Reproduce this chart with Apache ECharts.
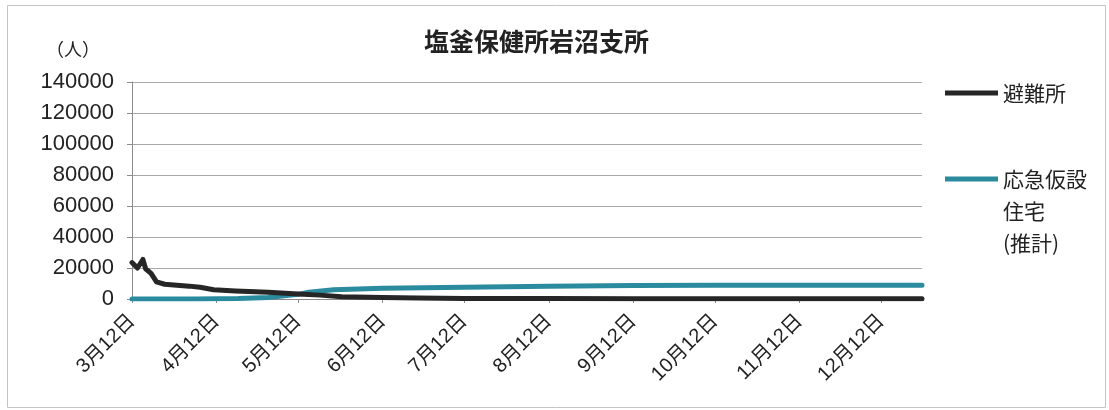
<!DOCTYPE html>
<html>
<head>
<meta charset="utf-8">
<script src="https://cdn.jsdelivr.net/npm/echarts@6/dist/echarts.min.js"></script>
<style>
html,body{margin:0;padding:0;background:#fff;}
#chart{width:1109px;height:410px;}
</style>
</head>
<body>
<div id="chart"></div>
<script>
// ---- data ----
const titleText = '塩釜保健所岩沼支所';
const unitLabel = '（人）';
const seriesNames = ['避難所', '応急仮設住宅(推計)'];
const legendLines = ['応急仮設', '住宅', '(推計)'];

const tickDates = ['3/12','4/12','5/12','6/12','7/12','8/12','9/12','10/12','11/12','12/12'];
const tickLabels = ['3月12日','4月12日','5月12日','6月12日','7月12日','8月12日','9月12日','10月12日','11月12日','12月12日'];
const endDate = '12/27';

const yTicks = [0, 20000, 40000, 60000, 80000, 100000, 120000, 140000];

const shelterDates  = ['3/12','3/14','3/16','3/17','3/19','3/21','3/24','4/2','4/6','4/11','4/19','5/1','5/12','5/20','5/28','6/12','6/25','7/12','8/12','9/12','10/12','11/12','12/12','12/27'];
const shelterValues = [23500, 20000, 25500, 19500, 16500, 11000, 9500, 8300, 7600, 6000, 5200, 4400, 3300, 2500, 1500, 900, 600, 400, 300, 200, 150, 100, 100, 100];

const housingDates  = ['3/12','4/5','4/20','5/1','5/12','5/16','5/25','6/12','7/12','8/12','9/12','10/12','11/12','12/12','12/27'];
const housingValues = [0, 0, 300, 1000, 3000, 4400, 6000, 7000, 7600, 8300, 8700, 8800, 8800, 8800, 8800];

// ---- helpers ----
function dayOffset(md) {
  const p = md.split('/');
  return (Date.UTC(2011, +p[0] - 1, +p[1]) - Date.UTC(2011, 2, 12)) / 86400000;
}
const tickDays = tickDates.map(dayOffset);
const pairs = (ds, vs) => ds.map((d, i) => [dayOffset(d), vs[i]]);

const FONT = "'Liberation Sans', 'Noto Sans CJK JP', sans-serif";
const CJK = "'Noto Sans CJK JP', sans-serif";
const chart = echarts.init(document.getElementById('chart'));

chart.setOption({
  backgroundColor: '#ffffff',
  animation: false,
  title: {
    text: titleText,
    left: 424, top: 29, padding: 0,
    textStyle: { fontFamily: CJK, fontSize: 25, fontWeight: 'bold', color: '#222' }
  },
  graphic: [{
    type: 'rect', silent: true,
    shape: { x: 7.5, y: 5.5, width: 1098, height: 402 },
    style: { fill: 'none', stroke: '#c4c4c4', lineWidth: 1 }
  }],
  legend: [{
    data: [seriesNames[0]],
    left: 945, top: 80, orient: 'vertical', padding: 0,
    icon: 'rect', itemWidth: 53, itemHeight: 5,
    textStyle: { fontFamily: CJK, fontSize: 21, color: '#222', lineHeight: 26 }
  }, {
    data: [seriesNames[1]],
    left: 945, top: 99, orient: 'vertical', padding: 0,
    icon: 'rect', itemWidth: 53, itemHeight: 5,
    formatter: () => '\n\n' + legendLines.join('\n'),
    textStyle: { fontFamily: CJK, fontSize: 21, color: '#222', lineHeight: 32 }
  }],
  grid: { left: 132, right: 187, top: 82, bottom: 111, containLabel: false },
  xAxis: {
    type: 'value', min: 0, max: dayOffset(endDate),
    splitLine: { show: false },
    axisLine: { show: true, lineStyle: { color: '#8c8c8c', width: 1 } },
    axisTick: { show: true, length: 4, customValues: tickDays, lineStyle: { color: '#8c8c8c' } },
    axisLabel: {
      customValues: tickDays, rotate: 45, margin: 19,
      fontFamily: FONT, fontSize: 20, color: '#222',
      formatter: v => tickLabels[tickDays.indexOf(v)] || ''
    }
  },
  yAxis: {
    type: 'value', min: 0, max: 140000, interval: 20000,
    name: unitLabel, nameLocation: 'end', nameGap: 24,
    nameTextStyle: { fontFamily: CJK, fontSize: 18, color: '#222', align: 'right', padding: [0, 32, 0, 0] },
    axisLine: { show: true, lineStyle: { color: '#8c8c8c', width: 1 } },
    axisTick: { show: true, length: 5, lineStyle: { color: '#8c8c8c' } },
    axisLabel: { fontFamily: FONT, fontSize: 22, color: '#222', margin: 18, formatter: v => yTicks.includes(v) ? String(v) : '' },
    splitLine: { show: true, lineStyle: { color: '#a8a8a8', width: 1 } }
  },
  series: [{
    name: seriesNames[0], type: 'line', showSymbol: false, symbol: 'none',
    data: pairs(shelterDates, shelterValues), z: 3,
    itemStyle: { color: '#262626' },
    lineStyle: { color: '#262626', width: 5, cap: 'round', join: 'round' }
  }, {
    name: seriesNames[1], type: 'line', showSymbol: false, symbol: 'none',
    data: pairs(housingDates, housingValues), z: 2,
    itemStyle: { color: '#2a8b9e' },
    lineStyle: { color: '#2a8b9e', width: 5, cap: 'round', join: 'round' }
  }]
});
</script>
</body>
</html>
